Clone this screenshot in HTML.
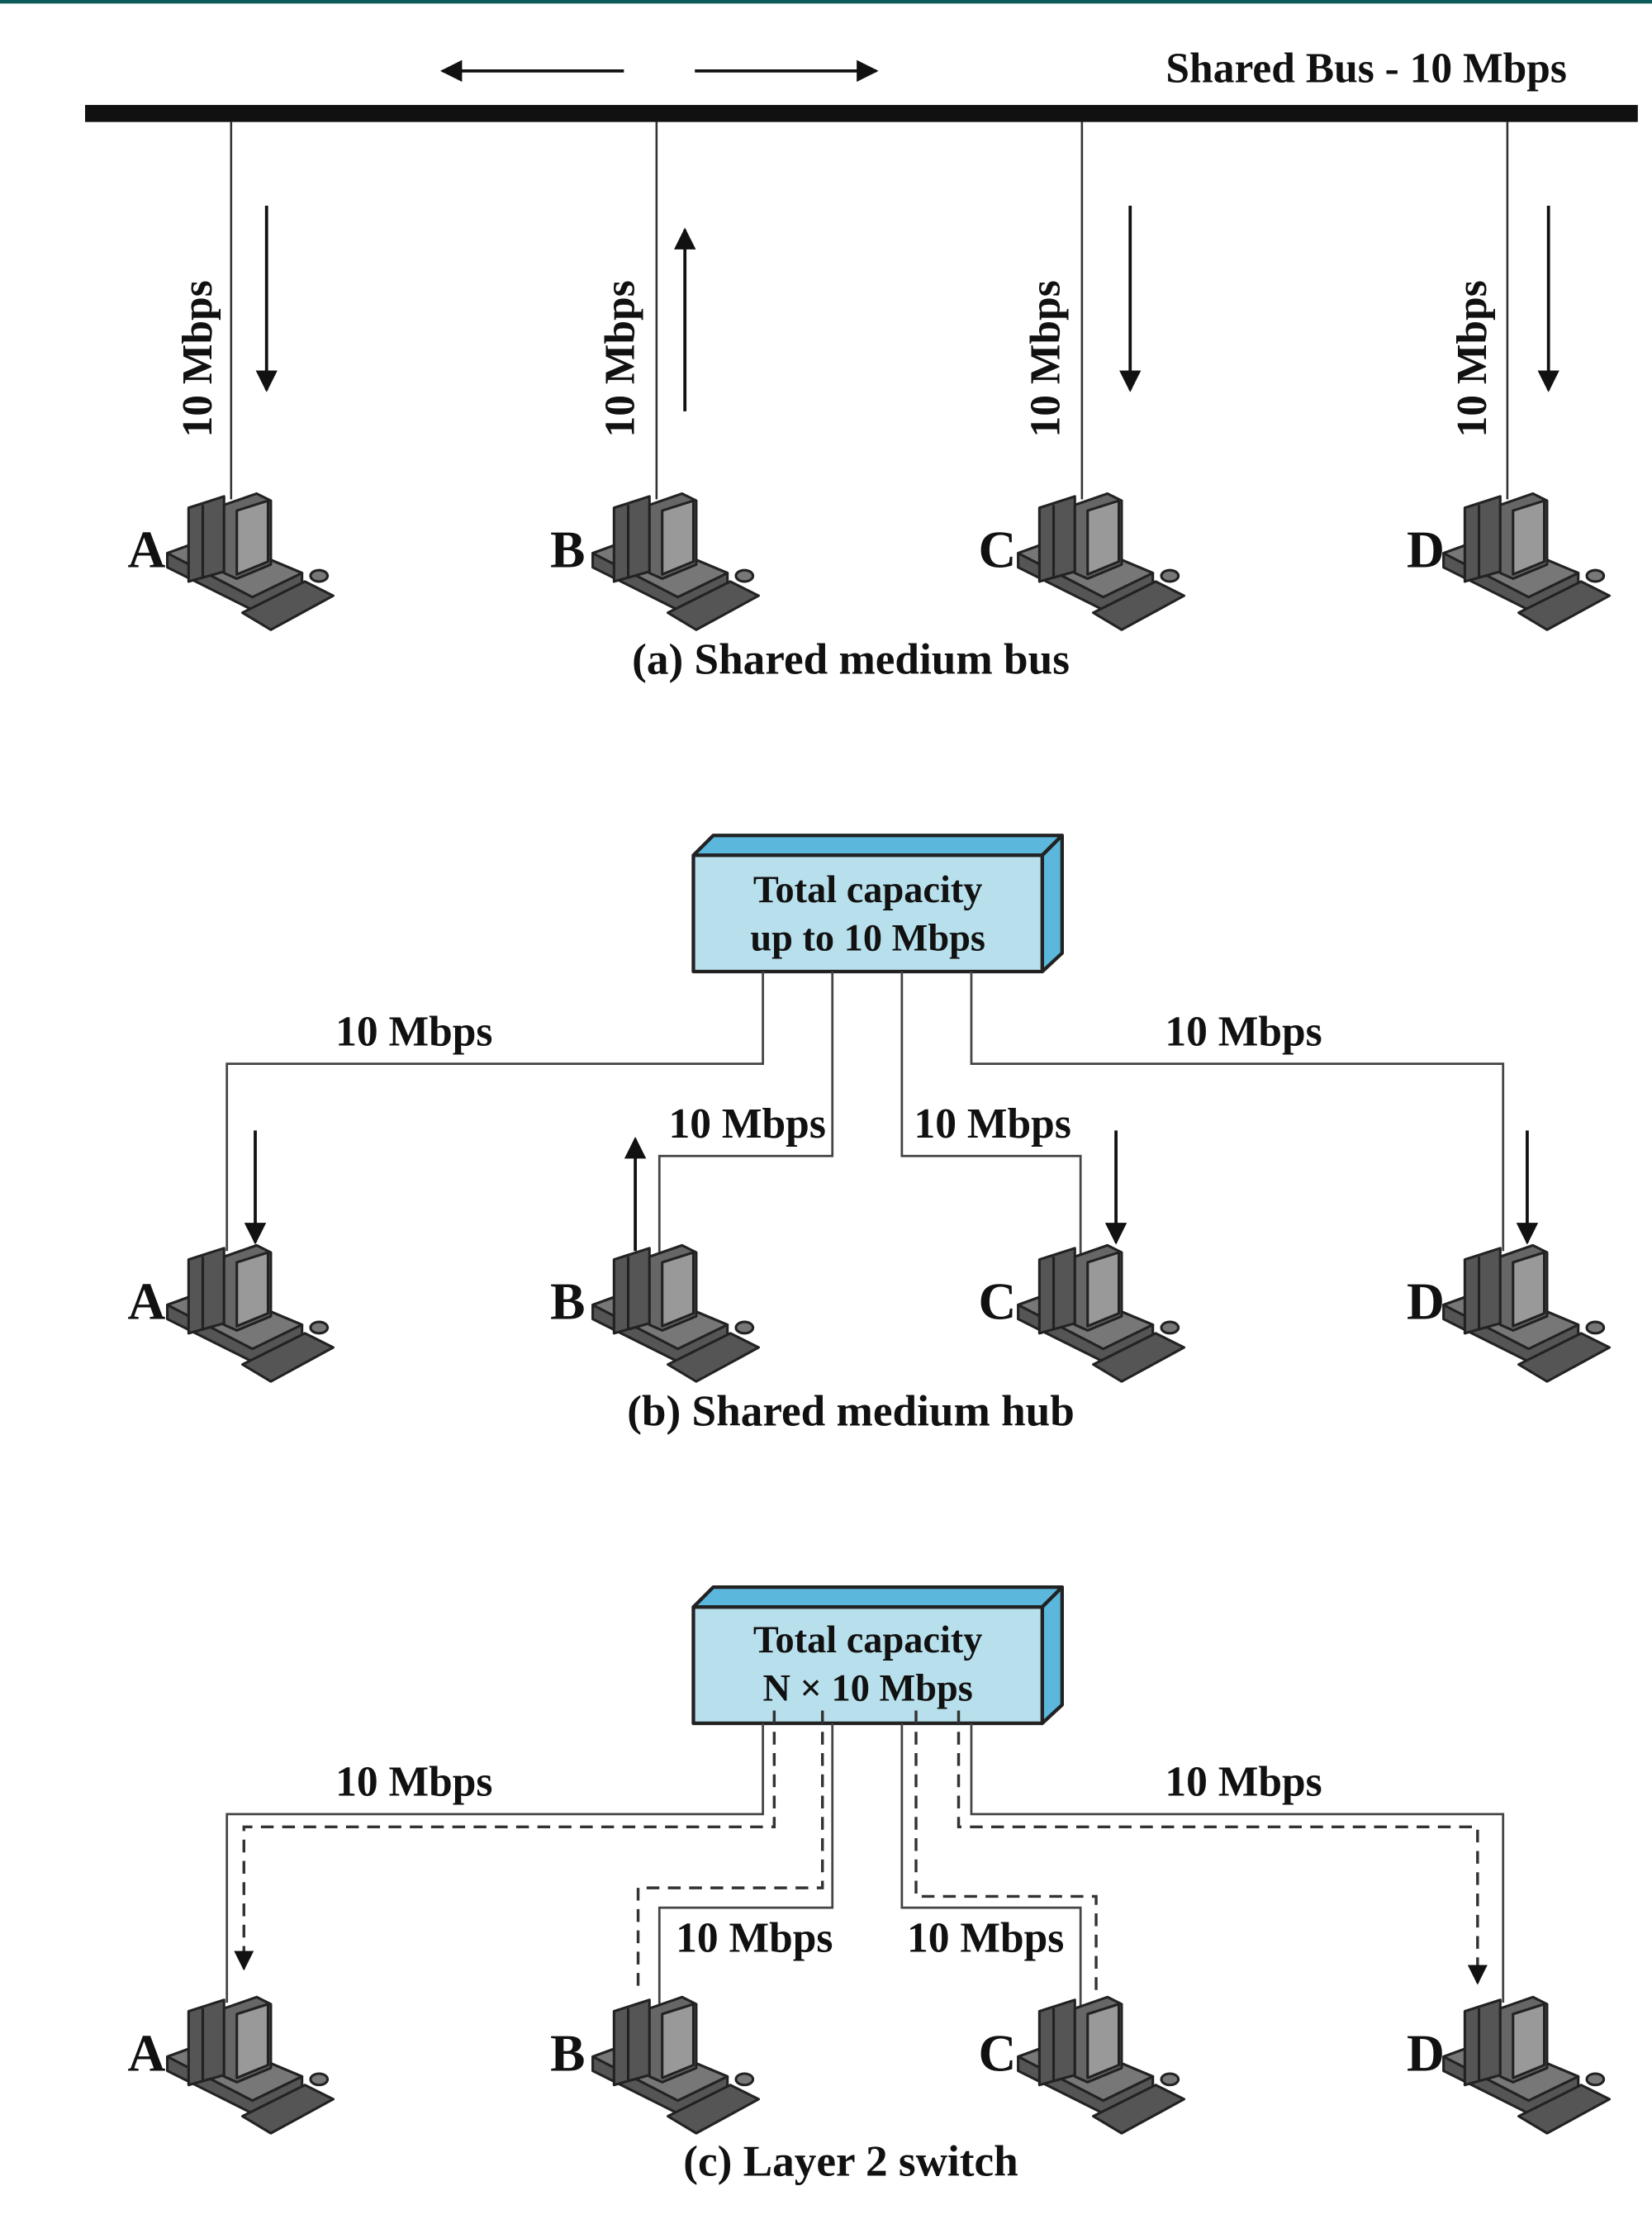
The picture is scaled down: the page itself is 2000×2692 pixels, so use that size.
<!DOCTYPE html>
<html><head><meta charset="utf-8"><style>
html,body{margin:0;padding:0;background:#fff;}
svg{display:block;}
text{font-family:"Liberation Serif",serif;font-weight:bold;fill:#111;}
</style></head><body>
<svg width="2000" height="2692" viewBox="0 0 1165 1568" preserveAspectRatio="none" xmlns="http://www.w3.org/2000/svg">
<defs>
<marker id="ah" viewBox="0 0 10 10" refX="9" refY="5" markerWidth="7" markerHeight="7" orient="auto-start-reverse" markerUnits="strokeWidth">
<path d="M0,0 L10,5 L0,10 z" fill="#111"/></marker>
<g id="pc" stroke="#222" stroke-width="1.8" stroke-linejoin="round">
<polygon points="-45,42 -12,30 50,56 50,64 15,82 -45,52" fill="#555"/>
<polygon points="-45,42 -12,30 50,56 15,73" fill="#777"/>
<polygon points="8,84 52,62 72,72 28,96" fill="#555"/>
<ellipse cx="62" cy="58" rx="6" ry="4" fill="#777"/>
<polygon points="-30,10 -5,2 -5,55 -30,62" fill="#555"/>
<line x1="-20" y1="8" x2="-20" y2="60"/>
<polygon points="-5,8 18,0 28,5 28,50 4,60 -5,56" fill="#666"/>
<polygon points="4,12 26,5 26,48 4,57" fill="#999"/>
</g>
</defs>
<rect x="0" y="0" width="1165" height="2.5" fill="#0d5c5c"/>

<!-- (a) -->
<rect x="60" y="74" width="1095" height="12" fill="#111"/>
<g stroke="#111" stroke-width="2.2" fill="none">
<line x1="440" y1="50" x2="312" y2="50" marker-end="url(#ah)"/>
<line x1="490" y1="50" x2="618" y2="50" marker-end="url(#ah)"/>
<line x1="188" y1="145" x2="188" y2="275" marker-end="url(#ah)"/>
<line x1="483" y1="290" x2="483" y2="162" marker-end="url(#ah)"/>
<line x1="797" y1="145" x2="797" y2="275" marker-end="url(#ah)"/>
<line x1="1092" y1="145" x2="1092" y2="275" marker-end="url(#ah)"/>
</g>
<g stroke="#333" stroke-width="1.5">
<line x1="163" y1="86" x2="163" y2="352"/>
<line x1="463" y1="86" x2="463" y2="352"/>
<line x1="763" y1="86" x2="763" y2="352"/>
<line x1="1063" y1="86" x2="1063" y2="352"/>
</g>
<text x="1105" y="58" font-size="30" text-anchor="end">Shared Bus - 10 Mbps</text>
<text transform="translate(149,253) rotate(-90)" font-size="30" text-anchor="middle">10 Mbps</text>
<text transform="translate(447,253) rotate(-90)" font-size="30" text-anchor="middle">10 Mbps</text>
<text transform="translate(747,253) rotate(-90)" font-size="30" text-anchor="middle">10 Mbps</text>
<text transform="translate(1048,253) rotate(-90)" font-size="30" text-anchor="middle">10 Mbps</text>
<use href="#pc" x="163" y="348"/><use href="#pc" x="463" y="348"/><use href="#pc" x="763" y="348"/><use href="#pc" x="1063" y="348"/>
<g font-size="37"><text x="90" y="400">A</text><text x="388" y="400">B</text><text x="690" y="400">C</text><text x="992" y="400">D</text></g>
<text x="600" y="475" font-size="31" text-anchor="middle">(a) Shared medium bus</text>

<!-- (b) -->
<g stroke="#222" stroke-width="2.5" stroke-linejoin="round">
<polygon points="489,603 503,589 749,589 735,603" fill="#5bb8dc"/>
<polygon points="735,603 749,589 749,672 735,685" fill="#5bb8dc"/>
<rect x="489" y="603" width="246" height="82" fill="#b8e0ec"/>
</g>
<text x="612" y="636" font-size="27" text-anchor="middle">Total capacity</text>
<text x="612" y="670" font-size="27" text-anchor="middle">up to 10 Mbps</text>
<g stroke="#444" stroke-width="1.6" fill="none">
<polyline points="538,685 538,750 160,750 160,882"/>
<polyline points="587,685 587,815 465,815 465,884"/>
<polyline points="636,685 636,815 762,815 762,884"/>
<polyline points="685,685 685,750 1060,750 1060,882"/>
</g>
<g stroke="#111" stroke-width="2.2">
<line x1="180" y1="797" x2="180" y2="876" marker-end="url(#ah)"/>
<line x1="448" y1="882" x2="448" y2="803" marker-end="url(#ah)"/>
<line x1="787" y1="797" x2="787" y2="876" marker-end="url(#ah)"/>
<line x1="1077" y1="797" x2="1077" y2="876" marker-end="url(#ah)"/>
</g>
<g font-size="30" text-anchor="middle">
<text x="292" y="737">10 Mbps</text><text x="527" y="802">10 Mbps</text><text x="700" y="802">10 Mbps</text><text x="877" y="737">10 Mbps</text>
</g>
<use href="#pc" x="163" y="878"/><use href="#pc" x="463" y="878"/><use href="#pc" x="763" y="878"/><use href="#pc" x="1063" y="878"/>
<g font-size="37"><text x="90" y="930">A</text><text x="388" y="930">B</text><text x="690" y="930">C</text><text x="992" y="930">D</text></g>
<text x="600" y="1005" font-size="31" text-anchor="middle">(b) Shared medium hub</text>

<!-- (c) -->
<g stroke="#222" stroke-width="2.5" stroke-linejoin="round">
<polygon points="489,1133 503,1119 749,1119 735,1133" fill="#5bb8dc"/>
<polygon points="735,1133 749,1119 749,1202 735,1215" fill="#5bb8dc"/>
<rect x="489" y="1133" width="246" height="82" fill="#b8e0ec"/>
</g>
<text x="612" y="1165" font-size="27" text-anchor="middle">Total capacity</text>
<text x="612" y="1199" font-size="27" text-anchor="middle">N × 10 Mbps</text>
<g stroke="#444" stroke-width="1.6" fill="none">
<polyline points="538,1215 538,1279 160,1279 160,1412"/>
<polyline points="587,1215 587,1345 465,1345 465,1414"/>
<polyline points="636,1215 636,1345 762,1345 762,1414"/>
<polyline points="685,1215 685,1279 1060,1279 1060,1412"/>
</g>
<g stroke="#333" stroke-width="2" fill="none" stroke-dasharray="9,6">
<polyline points="546,1206 546,1288 172,1288 172,1388" marker-end="url(#ah)"/>
<polyline points="580,1206 580,1331 450,1331 450,1402"/>
<polyline points="646,1206 646,1337 773,1337 773,1405"/>
<polyline points="676,1206 676,1288 1042,1288 1042,1398" marker-end="url(#ah)"/>
</g>
<g font-size="30" text-anchor="middle">
<text x="292" y="1266">10 Mbps</text><text x="532" y="1376">10 Mbps</text><text x="695" y="1376">10 Mbps</text><text x="877" y="1266">10 Mbps</text>
</g>
<use href="#pc" x="163" y="1408"/><use href="#pc" x="463" y="1408"/><use href="#pc" x="763" y="1408"/><use href="#pc" x="1063" y="1408"/>
<g font-size="37"><text x="90" y="1460">A</text><text x="388" y="1460">B</text><text x="690" y="1460">C</text><text x="992" y="1460">D</text></g>
<text x="600" y="1534" font-size="31" text-anchor="middle">(c) Layer 2 switch</text>
</svg>
</body></html>
